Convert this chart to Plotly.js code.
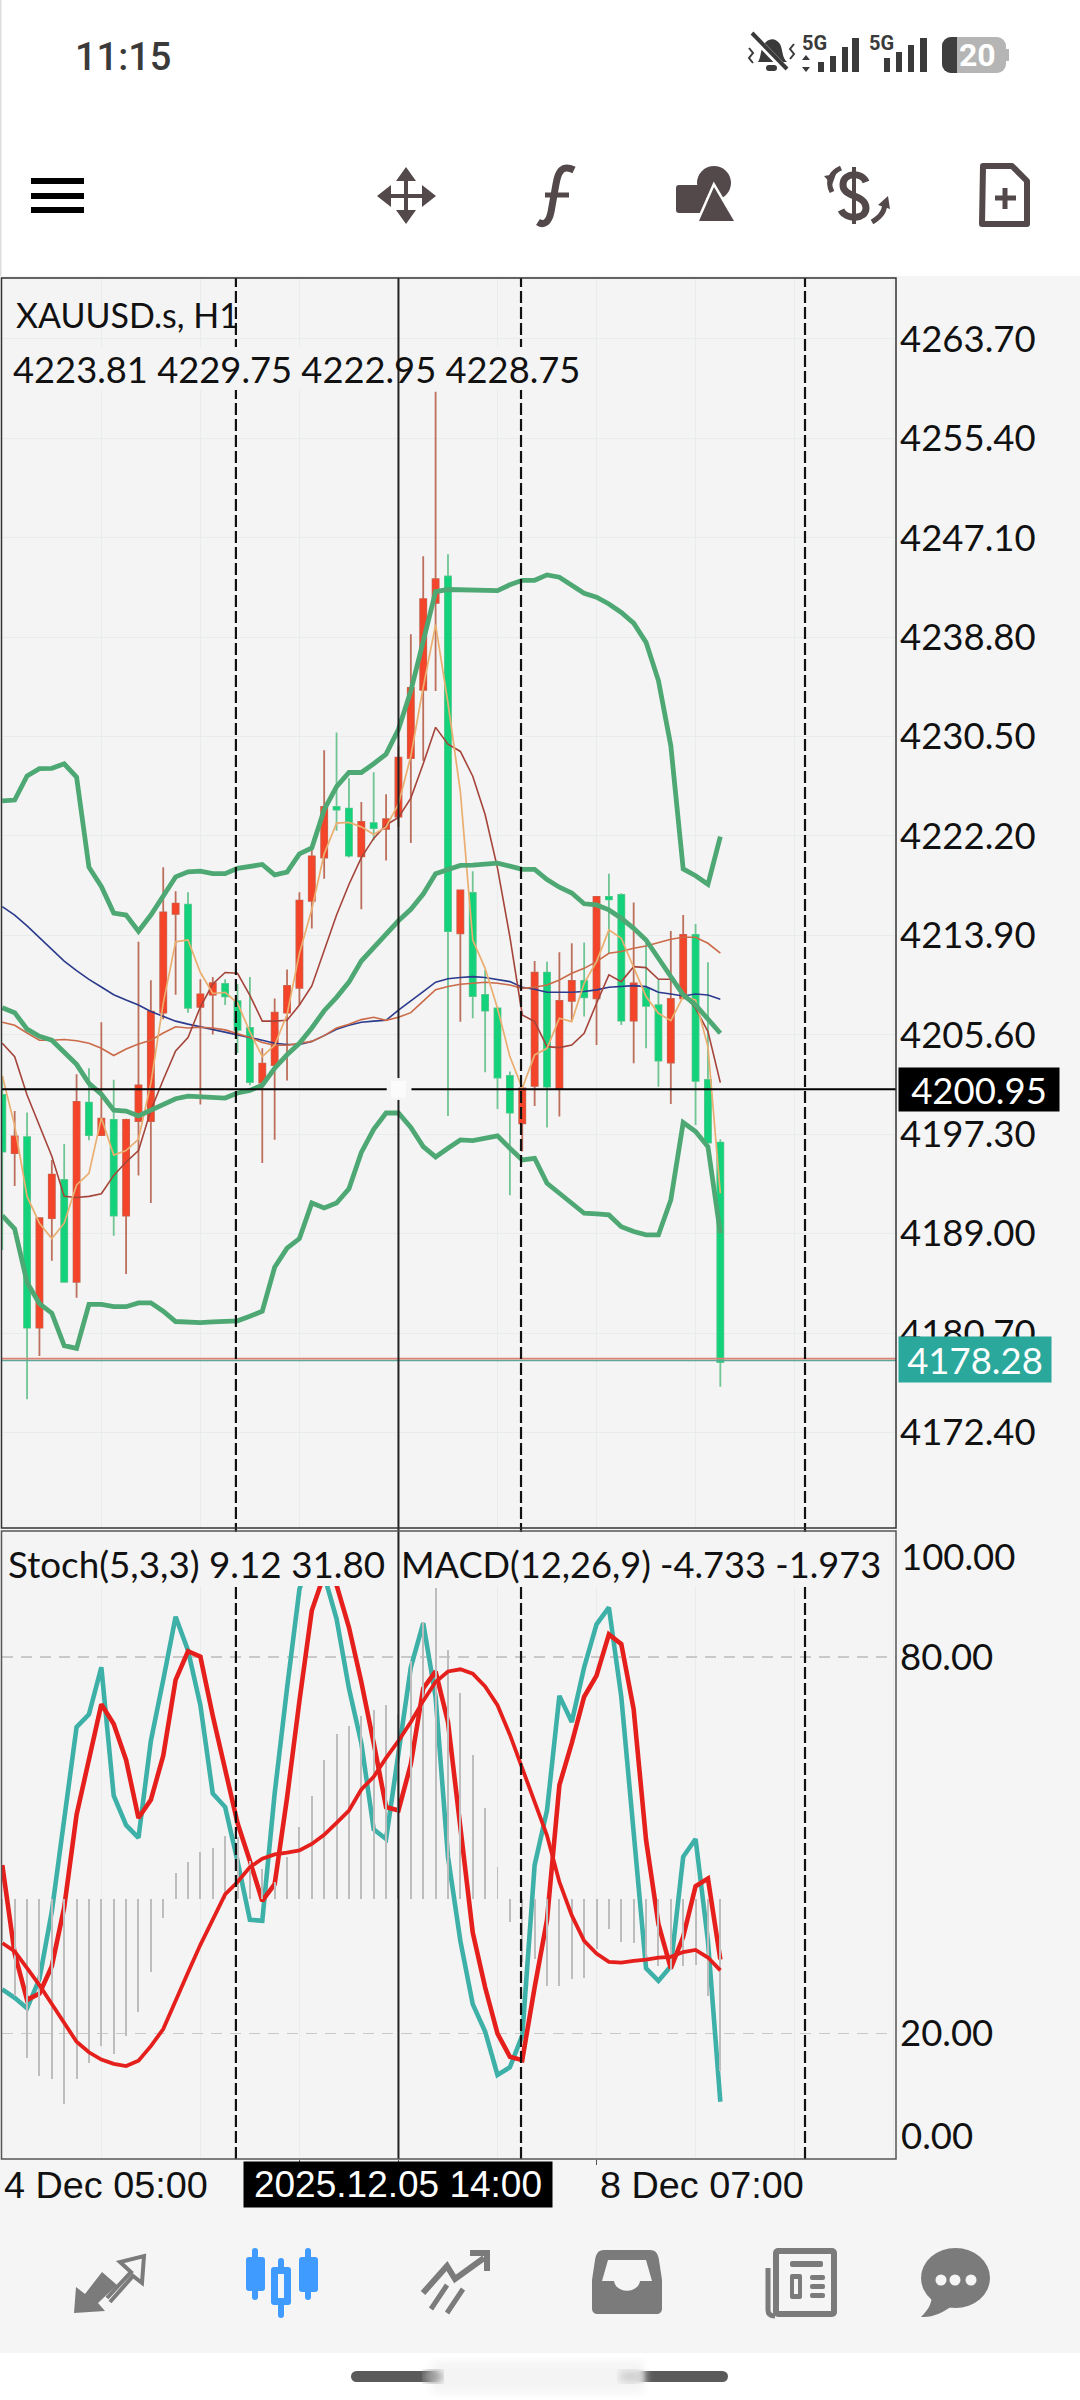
<!DOCTYPE html>
<html><head><meta charset="utf-8">
<script src="https://cdn.plot.ly/plotly-3.0.1.min.js"></script>
<style>html,body{margin:0;padding:0;background:#fff}#wrap{position:relative;width:1080px;height:2400px;overflow:hidden;background:#fff}#chart{position:absolute;left:0;top:0;z-index:2}#chrome{position:absolute;left:0;top:0;z-index:1}</style>
</head><body><div id="wrap">
<svg id="chrome" width="1080" height="2400" viewBox="0 0 1080 2400">
<defs><filter id="bl"><feGaussianBlur stdDeviation="4"/></filter></defs>
<rect x="0" y="276" width="1080" height="2077" fill="#F5F5F5"/>
<rect x="0" y="0" width="1.5" height="276" fill="#ddd"/>
<!-- status icons -->
<g fill="#3a3a3a" stroke="none">
<path d="M758 62 C762 56 760 46 766 42 C770 38 776 38 780 44 C783 50 782 58 787 62 Z"/><rect x="766" y="65" width="11" height="6" rx="3"/>
</g>
<path d="M752 35 L787 71" stroke="#fff" stroke-width="7"/><path d="M752 33 L787 69" stroke="#3a3a3a" stroke-width="4"/>
<path d="M749 48 l4 5 l-4 5 l4 5 M794 44 l-4 5 l4 5 l-4 5" stroke="#3a3a3a" stroke-width="2" fill="none"/>
<g fill="#3a3a3a"><rect x="818" y="62" width="6" height="10"/><rect x="830" y="56" width="6" height="16"/><rect x="842" y="47" width="6" height="25"/><rect x="852" y="38" width="7" height="34"/>
<path d="M806 55 l4 5 h-8z M806 72 l4 -5 h-8z"/>
<rect x="884" y="58" width="6" height="14"/><rect x="896" y="52" width="6" height="20"/><rect x="908" y="45" width="6" height="27"/><rect x="920" y="38" width="7" height="34"/></g>
<rect x="942" y="37" width="64" height="36" rx="9" fill="#b5b5b5"/><path d="M951 37 h6 v36 h-6 a9 9 0 0 1 -9 -9 v-18 a9 9 0 0 1 9 -9z" fill="#3e3e3e"/><rect x="1006" y="49" width="3" height="12" fill="#b5b5b5"/>
<!-- top tool icons -->
<g fill="#000"><rect x="31" y="178" width="53" height="6"/><rect x="31" y="193" width="53" height="6"/><rect x="31" y="207" width="53" height="6"/></g>
<g stroke="#54494a" fill="none"><path d="M406 172 V220 M382 196 H430" stroke-width="4"/></g>
<g fill="#54494a"><path d="M406 167 l10 14 h-20z M406 224 l10 -14 h-20z M377 196 l14 -11 v22z M436 196 l-14 -11 v22z"/></g>
<path d="M574 170 C562 164 558 172 556 184 L551 212 C549 222 544 226 538 222" stroke="#54494a" stroke-width="7" fill="none"/><path d="M545 195 H569" stroke="#54494a" stroke-width="5"/>
<g fill="#54494a"><rect x="676" y="185" width="30" height="28" rx="3"/><circle cx="714" cy="183" r="17"/></g>
<path d="M714 187 L699 221 H734 Z" fill="#54494a" stroke="#fff" stroke-width="5" paint-order="stroke"/>
<g stroke="#54494a" fill="none"><path d="M854 167 V224" stroke-width="4"/><path d="M866 182 C862 172 844 172 843 184 C842 198 866 194 866 208 C866 220 846 220 841 210" stroke-width="7"/><path d="M841 168 C832 172 826 180 832 192" stroke-width="5"/><path d="M872 222 C882 216 886 210 884 202" stroke-width="5"/></g>
<g fill="#54494a"><path d="M824 176 l12 -2 l-4 11z M888 196 l-10 9 l12 4z"/></g>
<path d="M983 166 H1012 L1027 181 V224 H982 Z" fill="none" stroke="#54494a" stroke-width="6" stroke-linejoin="round"/><path d="M1005 188 V209 M995 198 H1016" stroke="#54494a" stroke-width="5"/>
<!-- bottom nav -->
<g fill="#7b7b7b"><path d="M74 2313 L76 2287 L85 2294 L102 2272 L117 2285 L98 2303 L105 2311 Z"/></g>
<path d="M107 2298 L131 2272 L120 2262 L144 2256 L142 2283 L133 2276 L110 2302" fill="none" stroke="#7b7b7b" stroke-width="4"/>
<g fill="#3f9bff"><rect x="252" y="2248" width="6" height="52" rx="3"/><rect x="246" y="2257" width="19" height="34" rx="3"/><rect x="278" y="2258" width="6" height="60" rx="3"/><rect x="271" y="2267" width="20" height="38" rx="3"/><rect x="305" y="2248" width="6" height="52" rx="3"/><rect x="299" y="2257" width="19" height="35" rx="3"/></g>
<rect x="278" y="2274" width="6" height="24" fill="#f5f5f5"/>
<g fill="none" stroke="#7b7b7b"><path d="M423 2293 L447 2266 L455 2279 L484 2258" stroke-width="6"/><path d="M470 2253 H487 V2271" stroke-width="6"/><path d="M431 2309 L447 2285 M447 2313 L463 2289" stroke-width="5"/></g>
<path d="M604 2250 H650 C656 2250 658 2254 659 2260 L662 2280 V2308 C662 2312 660 2314 656 2314 H598 C594 2314 592 2312 592 2308 V2280 L595 2260 C596 2254 598 2250 604 2250Z" fill="#7b7b7b"/>
<path d="M608 2260 H646 L652 2281 H640 C638 2294 616 2294 614 2281 H602 Z" fill="#f5f5f5"/>
<rect x="773" y="2248" width="64" height="69" rx="5" fill="#7b7b7b"/><rect x="779" y="2254" width="52" height="57" fill="#f5f5f5"/>
<path d="M768 2268 V2310 C768 2314 770 2316 775 2316" stroke="#7b7b7b" stroke-width="5" fill="none"/>
<g fill="#7b7b7b"><rect x="790" y="2261" width="33" height="6" rx="2"/><rect x="790" y="2274" width="12" height="25" rx="2"/><rect x="810" y="2275" width="15" height="5" rx="2"/><rect x="810" y="2284" width="15" height="5" rx="2"/><rect x="810" y="2293" width="15" height="5" rx="2"/></g>
<rect x="794" y="2279" width="4" height="15" fill="#f5f5f5"/>
<ellipse cx="955.5" cy="2278" rx="34.5" ry="30" fill="#7b7b7b"/><path d="M921 2317 C928 2310 932 2304 932 2294 L952 2306 C944 2312 932 2318 921 2317Z" fill="#7b7b7b"/>
<g fill="#f5f5f5"><circle cx="941" cy="2280" r="5.5"/><circle cx="955" cy="2280" r="5.5"/><circle cx="971" cy="2280" r="5.5"/></g>
<rect x="351" y="2371" width="377" height="11" rx="5.5" fill="#5a5a5a"/>
<rect x="432" y="2361" width="212" height="32" fill="#f4f4f4" filter="url(#bl)"/>
<rect x="424" y="2371" width="18" height="11" fill="#999" filter="url(#bl)"/>
<rect x="620" y="2371" width="22" height="11" fill="#ccc" filter="url(#bl)"/>
</svg>
<div id="chart"></div></div>
<script>
const W = 1080, H = 2400;

const candleOpen = [4200.58,4195.72,4197.06,4181.15,4190.29,4193.48,4184.98,4199.94,4197.22,4198.50,4190.51,4198.40,4198.40,4207.45,4215.69,4216.46,4207.93,4208.95,4209.84,4208.41,4206.17,4201.60,4203.07,4207.45,4209.52,4216.78,4220.40,4224.62,4224.49,4220.50,4223.28,4222.80,4223.81,4228.71,4234.40,4241.66,4243.87,4214.08,4217.44,4208.93,4207.81,4202.16,4198.21,4201.33,4210.79,4201.13,4208.43,4210.10,4208.65,4217.12,4217.28,4206.78,4209.48,4208.07,4203.28,4208.65,4213.94,4201.83,4196.60];
const candleHigh = [4202.17,4199.23,4199.11,4190.29,4195.14,4196.49,4202.30,4202.81,4206.65,4201.85,4198.60,4213.36,4210.16,4219.59,4217.58,4217.51,4210.23,4210.42,4210.23,4209.84,4210.42,4204.48,4208.63,4211.06,4217.51,4221.20,4229.35,4230.85,4227.02,4225.04,4227.53,4225.68,4229.75,4239.04,4245.55,4259.30,4245.72,4217.66,4219.26,4211.02,4207.81,4202.53,4201.40,4211.77,4211.71,4212.49,4213.24,4213.30,4217.12,4219.04,4217.42,4216.64,4213.52,4210.18,4214.27,4215.61,4214.86,4211.66,4196.88];
const candleLow = [4187.63,4192.97,4175.17,4178.78,4186.74,4184.98,4183.64,4196.80,4197.22,4188.82,4185.62,4193.86,4191.56,4206.90,4208.95,4207.45,4199.78,4205.63,4208.09,4204.09,4201.38,4194.89,4196.84,4201.79,4208.09,4214.48,4218.63,4222.64,4220.40,4216.08,4221.84,4220.15,4222.95,4221.62,4228.49,4234.31,4198.83,4206.70,4206.98,4202.47,4199.41,4192.20,4195.85,4199.66,4197.85,4198.77,4206.84,4207.12,4204.75,4212.41,4206.42,4203.22,4204.47,4201.27,4199.83,4208.65,4198.07,4196.60,4176.22];
const candleClose = [4195.85,4197.12,4181.15,4190.29,4193.93,4184.98,4200.00,4197.22,4198.59,4190.51,4198.50,4201.38,4207.54,4215.82,4216.56,4207.86,4208.98,4209.91,4208.82,4206.01,4201.66,4203.20,4207.45,4209.68,4216.81,4220.50,4224.62,4224.40,4220.56,4223.37,4222.86,4223.60,4228.75,4234.56,4241.98,4243.64,4214.25,4217.66,4208.84,4207.62,4202.03,4199.10,4201.13,4210.79,4201.27,4208.43,4210.10,4208.73,4217.12,4216.90,4206.78,4209.90,4208.01,4203.45,4208.59,4213.94,4201.75,4196.60,4178.28];

const bbUpper = [4225.13,4225.20,4227.21,4227.82,4227.85,4228.23,4227.11,4219.59,4217.99,4215.76,4215.60,4214.25,4215.60,4217.19,4218.79,4219.21,4219.27,4219.05,4219.05,4219.50,4219.69,4219.82,4218.95,4219.18,4220.71,4221.20,4224.40,4226.32,4227.50,4227.50,4228.23,4229.03,4231.11,4234.31,4238.46,4242.61,4242.78,4242.78,4242.78,4242.75,4242.69,4243.17,4243.55,4243.55,4244.00,4243.81,4243.17,4242.46,4242.14,4241.57,4240.87,4239.97,4238.37,4235.18,4229.74,4219.45,4218.88,4218.17,4222.14];
const bbMiddle = [4207.86,4207.45,4206.07,4205.47,4205.15,4204.09,4203.13,4201.54,4200.64,4199.30,4199.23,4198.82,4199.30,4199.78,4200.26,4200.48,4200.42,4200.35,4200.32,4200.74,4200.96,4201.38,4202.81,4203.93,4204.89,4206.17,4207.61,4208.73,4210.00,4211.76,4212.88,4214.00,4215.12,4216.08,4217.35,4219.05,4219.36,4219.74,4219.77,4219.90,4219.93,4219.68,4219.42,4219.42,4218.56,4217.92,4217.44,4216.54,4216.44,4216.03,4215.33,4214.49,4213.52,4211.99,4210.40,4208.93,4208.09,4206.98,4205.73];
const bbLower = [4190.51,4189.39,4184.92,4183.16,4182.36,4179.64,4179.42,4183.09,4183.09,4182.90,4182.90,4183.22,4183.22,4182.52,4181.66,4181.56,4181.56,4181.63,4181.66,4181.72,4182.10,4182.52,4186.19,4187.79,4188.59,4191.56,4191.15,4191.56,4192.75,4195.78,4197.70,4199.07,4199.07,4197.86,4196.26,4195.40,4196.13,4196.82,4196.77,4196.96,4197.16,4196.13,4195.15,4195.29,4193.20,4192.37,4191.59,4190.70,4190.64,4190.56,4189.58,4189.17,4188.89,4188.89,4191.81,4198.27,4197.52,4196.26,4189.03];

const maFast = [4202.17,4198.02,4192.11,4189.87,4188.59,4189.87,4193.07,4194.03,4198.66,4195.56,4195.94,4196.90,4201.54,4208.25,4213.36,4213.52,4210.80,4209.05,4209.14,4208.25,4205.85,4203.77,4204.73,4207.29,4212.40,4216.08,4220.71,4223.28,4223.34,4222.96,4222.32,4222.96,4224.88,4228.87,4234.62,4239.85,4233.30,4225.91,4213.52,4211.15,4207.81,4203.78,4201.13,4203.92,4204.47,4206.98,4206.70,4209.90,4211.71,4214.36,4213.66,4211.29,4208.79,4207.40,4206.78,4208.79,4208.51,4204.61,4192.37];
const maMid = [4204.89,4203.77,4200.58,4198.02,4195.46,4192.11,4192.01,4192.11,4192.33,4193.86,4194.98,4195.94,4199.30,4201.85,4204.25,4205.37,4207.93,4209.84,4210.80,4210.74,4208.89,4206.74,4206.74,4206.81,4208.09,4209.68,4212.72,4215.60,4218.15,4220.39,4222.00,4223.12,4223.76,4225.36,4228.23,4231.27,4229.87,4229.26,4227.19,4223.99,4219.52,4213.78,4207.26,4206.70,4204.61,4204.53,4204.75,4205.73,4208.23,4210.60,4210.04,4211.29,4211.21,4210.24,4210.24,4209.07,4207.81,4205.87,4201.61];
const maSlow = [4206.65,4206.39,4205.75,4205.15,4205.15,4205.21,4205.11,4204.89,4204.48,4203.87,4204.41,4204.83,4205.15,4205.75,4206.27,4206.17,4206.23,4206.17,4206.01,4205.69,4205.37,4204.95,4204.73,4204.73,4204.89,4205.05,4205.53,4206.17,4206.49,4206.87,4207.06,4206.81,4207.06,4207.45,4208.41,4209.37,4209.64,4209.82,4209.90,4209.99,4209.90,4209.76,4209.48,4209.57,4209.76,4210.18,4210.74,4211.15,4211.71,4212.41,4212.55,4212.82,4213.02,4213.30,4213.58,4213.74,4213.74,4213.24,4212.41];
const maLong = [4216.30,4215.60,4214.70,4213.74,4212.78,4211.76,4210.96,4210.23,4209.59,4208.95,4208.50,4208.09,4207.54,4207.13,4206.74,4206.49,4206.27,4206.01,4205.85,4205.63,4205.37,4205.15,4204.89,4204.79,4204.79,4205.05,4205.53,4206.07,4206.39,4206.65,4206.74,4206.81,4207.67,4208.41,4209.21,4210.00,4210.28,4210.38,4210.46,4210.38,4210.24,4210.04,4209.57,4209.40,4209.15,4209.12,4209.15,4209.21,4209.35,4209.57,4209.62,4209.71,4209.62,4209.15,4209.01,4208.84,4209.01,4208.93,4208.57];

const stochK = [27.04,25.70,24.02,28.72,39.45,53.55,68.85,70.87,78.38,57.91,53.21,51.20,66.64,76.37,86.43,81.07,72.34,58.25,56.10,47.51,38.11,37.98,58.25,75.02,90.80,97.00,93.00,86.10,75.02,66.30,52.54,51.00,64.29,78.38,85.43,73.68,48.18,34.76,24.69,20.33,13.41,14.62,19.66,46.84,55.57,73.82,69.66,78.38,85.23,87.91,73.68,52.21,30.39,28.38,30.73,48.18,51.00,34.76,9.12];
const stochD = [46.84,32.74,25.36,26.37,30.73,40.13,54.89,63.61,72.47,69.32,63.61,54.35,57.24,64.29,76.37,80.93,80.06,70.66,62.27,53.55,47.51,41.13,43.82,57.57,73.01,87.44,93.15,91.47,84.76,76.03,66.30,56.10,55.56,62.94,75.02,77.71,69.66,52.21,36.10,27.37,19.99,16.30,15.76,27.37,38.11,59.59,66.30,73.68,77.04,83.61,82.07,71.67,50.87,37.44,30.39,35.43,43.48,44.69,31.80];
const macdHist = [-1.16,-2.67,-4.38,-4.89,-4.96,-5.65,-4.96,-4.52,-4.06,-4.29,-3.77,-3.11,-2.03,-0.52,0.70,1.02,1.30,1.39,1.74,1.70,1.04,0.81,0.46,1.16,1.97,2.84,3.82,4.54,4.75,5.04,5.21,5.35,5.10,6.55,7.61,8.57,6.84,5.68,3.96,2.49,0.87,-0.64,-1.74,-1.65,-2.41,-2.41,-2.22,-2.18,-1.39,-0.83,-1.18,-1.22,-1.62,-1.85,-1.97,-1.85,-1.83,-2.67,-4.733];
const macdSignal = [-1.22,-1.45,-1.91,-2.38,-2.90,-3.42,-3.94,-4.23,-4.43,-4.55,-4.61,-4.46,-4.06,-3.59,-2.78,-2.03,-1.27,-0.58,0.12,0.46,0.87,1.10,1.22,1.27,1.33,1.51,1.76,2.09,2.43,3.01,3.36,3.88,4.35,4.87,5.45,5.97,6.26,6.32,6.20,5.85,5.33,4.52,3.59,2.67,1.74,0.46,-0.46,-1.16,-1.51,-1.74,-1.76,-1.71,-1.68,-1.62,-1.60,-1.47,-1.41,-1.62,-1.973];

const priceTicks = [4263.70,4255.40,4247.10,4238.80,4230.50,4222.20,4213.90,4205.60,4197.30,4189.00,4180.70,4172.40];
const stochTicks = [80,20];
const periodSeparators = [18.87,41.9,64.84];
const crossCandle = 32, crossPrice = 4201.05, bidPrice = 4178.5;
const timeTicks = [24,32,48];

const xs = candleOpen.map((_, i) => i);
const mainFont = 'Lato, "Open Sans", sans-serif';
const narrowFont = '"Liberation Sans", Arial, sans-serif';
const statusFont = 'Roboto, sans-serif';
const red = '#F4452A', green = '#14D27C';

function line(y, color, width, yaxis) {
  return {type:'scatter', mode:'lines', x:xs, y:y, yaxis:yaxis||'y', hoverinfo:'skip', showlegend:false,
    line:{color:color, width:width}};
}
const traces = [
  {type:'candlestick', x:xs, open:candleOpen, high:candleHigh, low:candleLow, close:candleClose, yaxis:'y', showlegend:false, hoverinfo:'skip',
   increasing:{line:{color:'#BC6F5C', width:1.8}, fillcolor:red}, decreasing:{line:{color:'#6FC593', width:1.8}, fillcolor:green}},
  {type:'candlestick', x:xs, open:candleOpen, close:candleClose,
   high:candleOpen.map((o,i)=>Math.max(o,candleClose[i])), low:candleOpen.map((o,i)=>Math.min(o,candleClose[i])), yaxis:'y', showlegend:false, hoverinfo:'skip',
   increasing:{line:{color:red, width:0.5}, fillcolor:red}, decreasing:{line:{color:green, width:0.5}, fillcolor:green}},
  line(maLong,'#2B3A8C',1.6), line(maSlow,'#CB6A48',1.6), line(maMid,'#A5443A',1.6), line(maFast,'#E9AE70',1.7),
  line(bbUpper,'#4EA874',4.8), line(bbMiddle,'#4EA874',4.8), line(bbLower,'#4EA874',4.8),
  line(stochK,'#3DB0A8',4.6,'y2'), line(stochD,'#E5201C',4.6,'y2'),
  {type:'bar', x:xs, y:macdHist, yaxis:'y3', width:0.16, marker:{color:'#BDBDBD', line:{width:0}}, hoverinfo:'skip', showlegend:false},
  line(macdSignal,'#E5201C',3.8,'y3')
];

const pxX = p => p/W, pxY = p => 1-p/H;
function T(text, x, y, size, o) {
  return Object.assign({text:text, xref:'paper', yref:'paper', x:pxX(x), y:pxY(y), xanchor:'left', yanchor:'middle',
    showarrow:false, align:'left', font:{family:mainFont, size:size, color:'#111'}}, o||{});
}
const annotations = [
  T('XAUUSD.s, H1',14,314,34),
  T('4223.81 4229.75 4222.95 4228.75',11,369.5,36.3),
  T('Stoch(5,3,3) 9.12 31.80',6,1564,36.8),
  T('MACD(12,26,9) -4.733 -1.973',399,1564,36.2),
  {text:'100.00',xref:'paper',yref:'y2',x:pxX(899),y:100,xanchor:'left',yanchor:'top',showarrow:false,font:{family:mainFont,size:36.5,color:'#111'}},
  {text:'0.00',xref:'paper',yref:'y2',x:pxX(899),y:0,xanchor:'left',yanchor:'bottom',showarrow:false,font:{family:mainFont,size:36.5,color:'#111'}},
  {text:'4200.95',xref:'paper',yref:'y',x:pxX(979),y:crossPrice,xanchor:'center',yanchor:'middle',showarrow:false,bgcolor:'#000',width:158,height:41,font:{family:mainFont,size:36.5,color:'#fff'}},
  {text:'4178.28',xref:'paper',yref:'y',x:pxX(975),y:bidPrice,xanchor:'center',yanchor:'middle',showarrow:false,bgcolor:'#2BA89C',width:150,height:43,font:{family:mainFont,size:36.5,color:'#fff'}},
  T('4 Dec 05:00',2,2185,37.8,{font:{family:narrowFont,size:37.8,color:'#111'}}),
  T('8 Dec 07:00',598,2185,37.8,{font:{family:narrowFont,size:37.8,color:'#111'}}),
  {text:'2025.12.05 14:00',xref:'paper',yref:'paper',x:pxX(398),y:pxY(2184.5),xanchor:'center',yanchor:'middle',showarrow:false,bgcolor:'#000',width:306,height:43,font:{family:narrowFont,size:37,color:'#fff'}},
  T('11:15',73,57,38,{font:{family:statusFont,size:38,color:'#3a3a3a',weight:500}}),
  T('5G',800,43,19,{font:{family:statusFont,size:20,color:'#3a3a3a',weight:700}}),
  T('5G',867,43,19,{font:{family:statusFont,size:20,color:'#3a3a3a',weight:700}}),
  T('20',957,55,30,{font:{family:statusFont,size:32,color:'#fff',weight:700}})
];

const vl = (x, o) => Object.assign({type:'line', xref:'x', yref:'paper', x0:x, x1:x, layer:'above'}, o);
const shapes = [
  {type:'line', xref:'x', yref:'y', x0:-1, x1:80, y0:bidPrice-0.09, y1:bidPrice-0.09, line:{color:'#5FA69A', width:1.5}},
  {type:'line', xref:'x', yref:'y', x0:-1, x1:80, y0:bidPrice+0.06, y1:bidPrice+0.06, line:{color:'#DE8374', width:1.6}},
];
periodSeparators.forEach(x => shapes.push(vl(x,{y0:pxY(2159),y1:pxY(278),line:{color:'#111',width:2.2,dash:'12px,4px'}})));
shapes.push({type:'rect',xref:'paper',yref:'paper',x0:pxX(2),x1:pxX(890),y0:pxY(1586),y1:pxY(1532),fillcolor:'#F4F4F4',line:{width:0},layer:'above'});
shapes.push({type:'rect',xref:'paper',yref:'paper',x0:pxX(2),x1:pxX(585),y0:pxY(390),y1:pxY(347),fillcolor:'#F4F4F4',line:{width:0},layer:'above'});
shapes.push({type:'line',xref:'x',yref:'y',x0:-0.1,x1:crossCandle-0.95,y0:crossPrice,y1:crossPrice,line:{color:'#000',width:2}});
shapes.push({type:'line',xref:'x',yref:'y',x0:crossCandle+1.05,x1:73,y0:crossPrice,y1:crossPrice,line:{color:'#000',width:2}});
shapes.push(vl(crossCandle,{y0:pxY(1078),y1:pxY(278),line:{color:'#222',width:2}}));
shapes.push(vl(crossCandle,{y0:pxY(2159),y1:pxY(1100),line:{color:'#222',width:2}}));
shapes.push({type:'rect',xref:'x',yref:'y',x0:crossCandle-0.6,x1:crossCandle+0.6,y0:crossPrice-0.7,y1:crossPrice+0.7,fillcolor:'#FBFBFB',line:{width:0}});
shapes.push({type:'rect',xref:'paper',yref:'paper',x0:pxX(1.5),x1:pxX(896),y0:pxY(1528),y1:pxY(278),line:{color:'#333',width:1.5},fillcolor:'rgba(0,0,0,0)'});
shapes.push({type:'rect',xref:'paper',yref:'paper',x0:pxX(1.5),x1:pxX(896),y0:pxY(2159),y1:pxY(1531),line:{color:'#555',width:1.5},fillcolor:'rgba(0,0,0,0)'});

const layout = {
  width:W, height:H, margin:{l:0,r:0,t:0,b:0,pad:0}, autosize:false, showlegend:false, hovermode:false,
  paper_bgcolor:'rgba(0,0,0,0)', plot_bgcolor:'#F4F4F4', bargap:0, boxgap:0.3,
  xaxis:{domain:[pxX(1.5),pxX(896)], range:[-0.065,72.19], anchor:'y2', rangeslider:{visible:false}, showline:false, zeroline:false,
    tickmode:'array', tickvals:[0,8,16,24,32,40,48,56,64,72], showticklabels:false, ticklen:0, showgrid:true, gridcolor:'#E9ECEC', gridwidth:1,
    minor:{tickmode:'array', tickvals:timeTicks, ticks:'outside', ticklen:5, tickcolor:'#555', showgrid:false}},
  yaxis:{domain:[pxY(1528),pxY(278)], range:[4164.42,4268.79], side:'right', anchor:'x', showline:false, zeroline:false,
    tickmode:'array', tickvals:priceTicks, ticktext:priceTicks.map(v=>v.toFixed(2)), ticklen:0, ticklabelstandoff:3, gridcolor:'#E9ECEC', gridwidth:1,
    tickfont:{family:mainFont,size:36.5,color:'#111'}},
  yaxis2:{domain:[pxY(2159),pxY(1531)], range:[0,100.1], side:'right', anchor:'x', showline:false, zeroline:false,
    tickmode:'array', tickvals:stochTicks, ticktext:stochTicks.map(v=>v.toFixed(2)), ticklen:0, ticklabelstandoff:3, gridcolor:'#C9C9C9', gridwidth:1.5, griddash:'11px,8px',
    tickfont:{family:mainFont,size:36.5,color:'#111'}},
  yaxis3:{overlaying:'y2', range:[-7.17,10.13], side:'right', anchor:'x', visible:false},
  shapes:shapes, annotations:annotations
};
Plotly.newPlot('chart', traces, layout, {staticPlot:true, displayModeBar:false});
</script></body></html>
